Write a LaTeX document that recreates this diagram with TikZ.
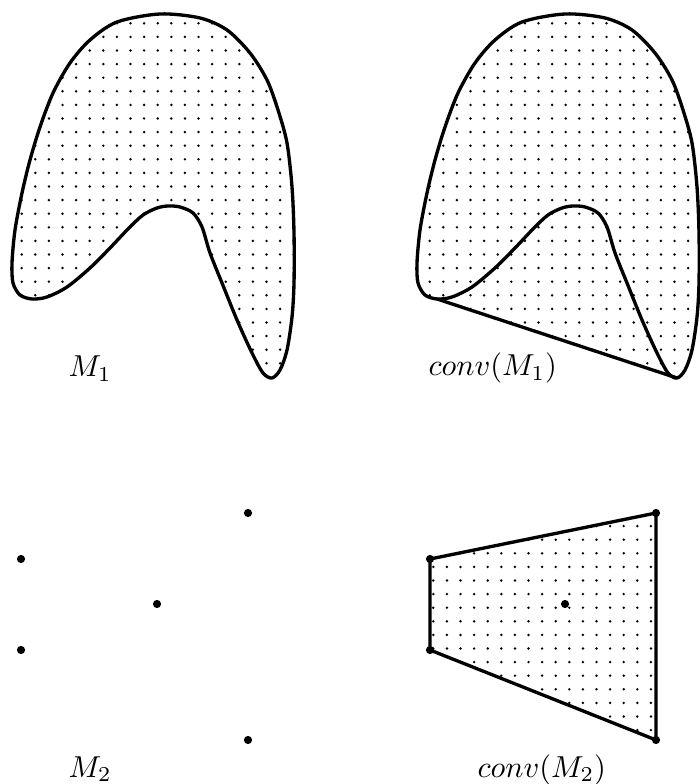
\documentclass[tikz,border=0pt]{standalone}
\begin{document}
\begin{tikzpicture}[x=0.33pt,y=-0.33pt,
  outline/.style={line width=1.1pt, line join=round},
  pt/.style={circle, fill=black, inner sep=0pt, minimum size=2.7pt},
  lbl/.style={anchor=base west, inner sep=0pt}]
\useasboundingbox (0,0) rectangle (699,784);
\newcommand\shapeMone{plot[smooth cycle, tension=0.5] coordinates {
 (160,14) (200,18) (227,30) (250,53) (267,80) (278,110) (287,143) (292,187)
 (294,233) (294,283) (292,317) (287,350) (280,370) (272,378) (263,373)
 (252,353) (237,320) (222,283) (210,253) (202,227) (193,213) (180,207)
 (168,206) (157,208) (143,215) (128,229) (110,248) (90,268) (67,287)
 (47,297) (32,299) (20,295) (13,283) (12,263) (15,230) (22,193) (30,160)
 (40,127) (53,93) (70,63) (90,40) (117,22)}}
\newcommand\gapfill{(32,299) -- (47,297) -- (67,287) -- (90,268) -- (110,248) -- (128,229) -- (143,215) -- (157,208) -- (168,206) -- (180,207) -- (193,213) -- (202,227) -- (210,253) -- (222,283) -- (237,320) -- (252,353) -- (263,373) -- (272,378) -- cycle}
\newcommand\dotgrid[4]{\foreach \i in {0,...,#3}{\foreach \j in {0,...,#4}{
  \fill ({#1+13.6*\i},{#2+13.6*\j}) circle (0.45pt);}}}
% ---- M1 ----
\begin{scope}
  \clip \shapeMone;
  \dotgrid{21.7}{23.3}{21}{27}
\end{scope}
\draw[outline] \shapeMone;
\node[lbl] (m1) at (68,377) {$M_1$};
% ---- conv(M1) ----
\begin{scope}[xshift=133.65pt]
  \begin{scope}
    \clip \shapeMone;
    \dotgrid{-2.5}{23.3}{22}{27}
  \end{scope}
  \begin{scope}
    \clip \gapfill;
    \dotgrid{-2.5}{23.3}{22}{27}
  \end{scope}
  \draw[outline] \shapeMone;
  \coordinate (c1) at (32,299);
  \coordinate (c2) at (272,378);
  \draw[outline] (c1) -- (c2);
\end{scope}
\node[lbl] (cm1) at (428,376) {$conv(M_1)$};
% ---- M2 ----
\node[pt] (a1) at (248,513) {};
\node[pt] (a2) at (21,559) {};
\node[pt] (a3) at (157,604) {};
\node[pt] (a4) at (21,650) {};
\node[pt] (a5) at (248,740) {};
\node[lbl] (m2) at (68,777) {$M_2$};
% ---- conv(M2) ----
\coordinate (q1) at (656,513);
\coordinate (q2) at (430,559);
\coordinate (q4) at (430,650);
\coordinate (q5) at (656,740);
\begin{scope}
  \clip (q1) -- (q2) -- (q4) -- (q5) -- cycle;
  \dotgrid{433.3}{498.9}{17}{18}
\end{scope}
\draw[outline] (q1) -- (q2) -- (q4) -- (q5) -- cycle;
\node[pt] (b1) at (q1) {};
\node[pt] (b2) at (q2) {};
\node[pt] (b3) at (565,604) {};
\node[pt] (b4) at (q4) {};
\node[pt] (b5) at (q5) {};
\node[lbl] (cm2) at (477,777) {$conv(M_2)$};
\end{tikzpicture}
\end{document}
